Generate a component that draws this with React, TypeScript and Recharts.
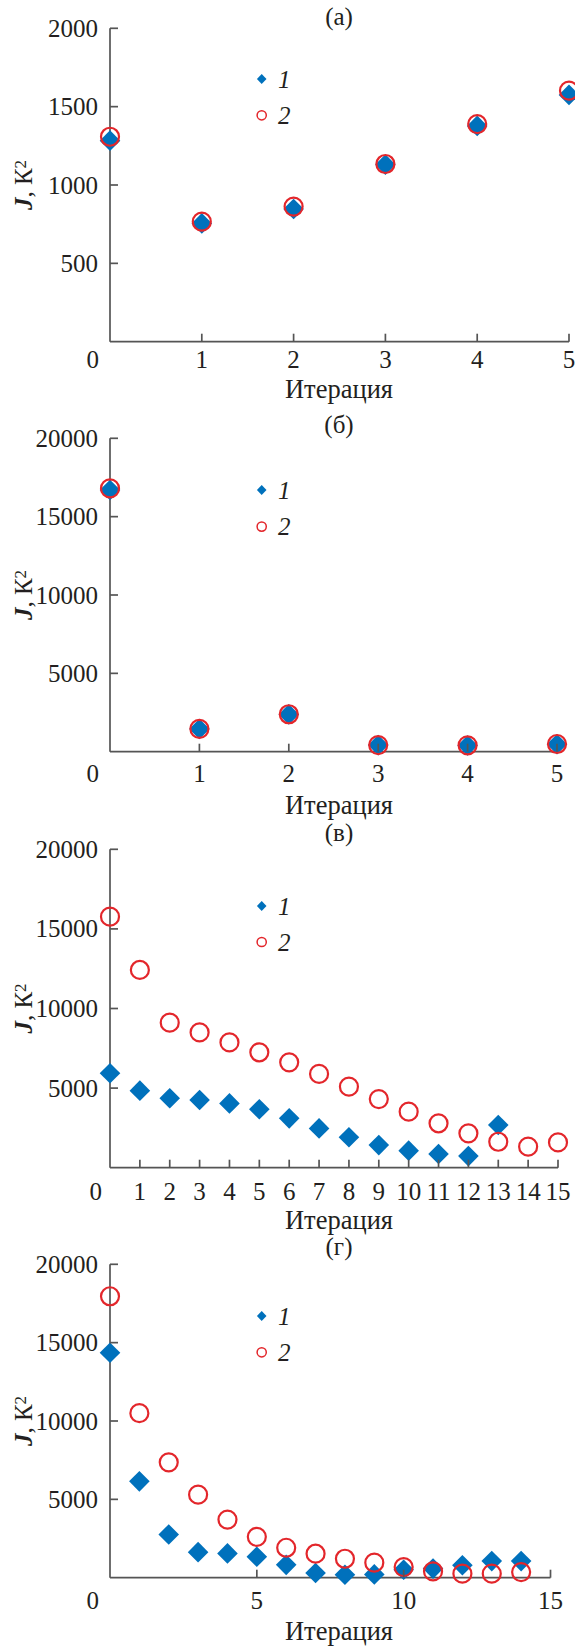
import React from 'react';
import { ScatterChart, Scatter, XAxis, YAxis, Legend } from 'recharts';

// ---------- data ----------
const titles = ['(а)', '(б)', '(в)', '(г)'];
const seriesNames = ['1', '2'];

// panel а
const iterA = [0, 1, 2, 3, 4, 5];
const jA1 = [1283, 755, 847, 1130, 1377, 1575];
const jA2 = [1308, 766, 862, 1134, 1389, 1602];

// panel б
const iterB = [0, 1, 2, 3, 4, 5];
const jB1 = [16700, 1450, 2380, 420, 400, 480];
const jB2 = [16800, 1460, 2390, 425, 405, 490];

// panel в
const iterC1 = [0, 1, 2, 3, 4, 5, 6, 7, 8, 9, 10, 11, 12, 13];
const jC1 = [5930, 4840, 4360, 4250, 4040, 3670, 3100, 2470, 1910, 1420, 1070, 860, 730, 2680];
const iterC2 = [0, 1, 2, 3, 4, 5, 6, 7, 8, 9, 10, 11, 12, 13, 14, 15];
const jC2 = [15770, 12420, 9110, 8500, 7870, 7250, 6620, 5890, 5090, 4310, 3520, 2790, 2160, 1630, 1320, 1590];

// panel г
const iterD = [0, 1, 2, 3, 4, 5, 6, 7, 8, 9, 10, 11, 12, 13, 14];
const jD1 = [14360, 6150, 2760, 1630, 1550, 1340, 820, 300, 190, 210, 510, 580, 790, 1060, 1060];
const jD2 = [17960, 10500, 7360, 5300, 3710, 2610, 1910, 1530, 1210, 960, 680, 400, 260, 260, 360];

// axis ticks
const xTicksA = [0, 1, 2, 3, 4, 5];
const xTicksB = [0, 1, 2, 3, 4, 5];
const xTicksC = [0, 1, 2, 3, 4, 5, 6, 7, 8, 9, 10, 11, 12, 13, 14, 15];
const xTicksD = [0, 5, 10, 15];
const yTicksA = [500, 1000, 1500, 2000];
const yTicksBig = [5000, 10000, 15000, 20000];

const pts = (xs: number[], ys: number[]) => xs.map((x, i) => ({ x, y: ys[i] }));

const panels = [
  { s1: pts(iterA, jA1), s2: pts(iterA, jA2), xMax: 5, xTicks: xTicksA, yMax: 2000, yTicks: yTicksA },
  { s1: pts(iterB, jB1), s2: pts(iterB, jB2), xMax: 5, xTicks: xTicksB, yMax: 20000, yTicks: yTicksBig },
  { s1: pts(iterC1, jC1), s2: pts(iterC2, jC2), xMax: 15, xTicks: xTicksC, yMax: 20000, yTicks: yTicksBig },
  { s1: pts(iterD, jD1), s2: pts(iterD, jD2), xMax: 15, xTicks: xTicksD, yMax: 20000, yTicks: yTicksBig },
];

// ---------- layout / style ----------
const FONT = "'Liberation Serif', 'Times New Roman', serif";
const FS = 25;
const FS_LABEL = 26.5;
const BLUE = '#0071bc';
const RED = '#e3262b';
const AXIS = '#555555';
const TEXT = '#231f20';
const W = 575;
const TS: React.CSSProperties = { fontFamily: FONT, fontSize: FS, fill: TEXT };
const TL: React.CSSProperties = { fontFamily: FONT, fontSize: FS_LABEL, fill: TEXT };

const layouts = [
  { top: 0, height: 412, plotTop: 28.3, plotBottom: 341.7, plotRight: 569, titleBase: 25, tickBase: 368, xLabelBase: 397.5, zeroX: 99, leg1: 51, leg2: 87.3 },
  { top: 400, height: 420, plotTop: 438.3, plotBottom: 751.7, plotRight: 557, titleBase: 433, tickBase: 781.6, xLabelBase: 814, zeroX: 99, leg1: 51.7, leg2: 88.3 },
  { top: 815, height: 422, plotTop: 849.3, plotBottom: 1167.7, plotRight: 558, titleBase: 841, tickBase: 1200, xLabelBase: 1229, zeroX: 102, leg1: 56.3, leg2: 92.3 },
  { top: 1226, height: 420, plotTop: 1264.3, plotBottom: 1577.7, plotRight: 550.5, titleBase: 1254.5, tickBase: 1609.3, xLabelBase: 1640, zeroX: 99, leg1: 52, leg2: 88.3 },
];
const PLOT_LEFT = 110;
const TITLE_X = 339;

const Diamond = (props: any) => {
  const { cx, cy } = props;
  if (cx == null || cy == null) return null;
  const h = 10.3;
  return <polygon points={`${cx},${cy - h} ${cx + h},${cy} ${cx},${cy + h} ${cx - h},${cy}`} fill={BLUE} />;
};

const Ring = (props: any) => {
  const { cx, cy } = props;
  if (cx == null || cy == null) return null;
  return <circle cx={cx} cy={cy} r={9} fill="none" stroke={RED} strokeWidth={2.2} />;
};

const makeXTick = (labelDy: number, zeroX: number) => (props: any) => {
  const { x, y, payload } = props;
  const v = payload.value;
  const isZero = v === 0;
  return (
    <g>
      {!isZero && <line x1={x} y1={y} x2={x} y2={y - 8} stroke={AXIS} strokeWidth={1.7} />}
      <text x={isZero ? zeroX : x} y={y + labelDy} textAnchor={isZero ? 'end' : 'middle'} style={TS}>
        {v}
      </text>
    </g>
  );
};

const YTick = (props: any) => {
  const { x, y, payload } = props;
  return (
    <g>
      <line x1={x} y1={y} x2={x + 8} y2={y} stroke={AXIS} strokeWidth={1.7} />
      <text x={x - 12} y={y + 0.34 * FS} textAnchor="end" style={TS}>
        {payload.value}
      </text>
    </g>
  );
};

const makeLegend = (gap: number) => () => (
  <svg width={60} height={gap + 30} style={{ display: 'block', overflow: 'visible' }}>
    <polygon points="11.7,7 16.5,12 11.7,17 6.9,12" fill={BLUE} />
    <text x={28} y={21} style={{ ...TS, fontStyle: 'italic' }}>
      {seriesNames[0]}
    </text>
    <circle cx={11.7} cy={12 + gap} r={4.6} fill="none" stroke={RED} strokeWidth={1.5} />
    <text x={28} y={12 + gap + 8.5} style={{ ...TS, fontStyle: 'italic' }}>
      {seriesNames[1]}
    </text>
  </svg>
);

const Panel = ({ idx }: { idx: number }) => {
  const P = panels[idx];
  const L = layouts[idx];
  const mt = L.plotTop - L.top;
  const xAxisH = L.top + L.height - L.plotBottom;
  const plotCenterY = (L.plotTop + L.plotBottom) / 2 - L.top;
  const legTop = L.plotTop + L.leg1 - 12 - L.top;
  return (
    <div style={{ position: 'absolute', left: 0, top: L.top, width: W, height: L.height }}>
      <ScatterChart
        width={W}
        height={L.height}
        margin={{ top: mt, right: W - L.plotRight, bottom: 0, left: 0 }}
        style={{ fontFamily: FONT }}
      >
        <XAxis
          type="number"
          dataKey="x"
          domain={[0, P.xMax]}
          ticks={P.xTicks}
          interval={0}
          height={xAxisH}
          tickSize={0}
          tickMargin={0}
          tickLine={false}
          axisLine={{ stroke: AXIS, strokeWidth: 1.7 }}
          tick={makeXTick(L.tickBase - L.plotBottom, L.zeroX)}
          label={{
            value: 'Итерация',
            content: () => (
              <text x={TITLE_X} y={L.xLabelBase - L.top} textAnchor="middle" style={TL}>
                Итерация
              </text>
            ),
          }}
        />
        <YAxis
          type="number"
          dataKey="y"
          domain={[0, P.yMax]}
          ticks={P.yTicks}
          interval={0}
          width={PLOT_LEFT}
          tickSize={0}
          tickMargin={0}
          tickLine={false}
          axisLine={{ stroke: AXIS, strokeWidth: 1.7 }}
          tick={YTick}
          label={{
            value: 'J, K2',
            content: () => (
              <text
                x={32}
                y={plotCenterY}
                transform={`rotate(-90, 32, ${plotCenterY})`}
                textAnchor="middle"
                style={TS}
              >
                <tspan style={{ fontStyle: 'italic', fontWeight: 'bold' }}>J</tspan>
                <tspan>, К</tspan>
                <tspan dy={-6} style={{ fontSize: 17 }}>2</tspan>
              </text>
            ),
          }}
        />
        <Legend
          content={makeLegend(L.leg2 - L.leg1)}
          layout="horizontal"
          verticalAlign="middle"
          align="center"
          width={60}
          wrapperStyle={{ left: 250, top: legTop, width: 60, margin: 0, padding: 0 }}
        />
        <Scatter name={seriesNames[0]} data={P.s1} shape={Diamond} legendType="diamond" fill={BLUE} isAnimationActive={false} />
        <Scatter name={seriesNames[1]} data={P.s2} shape={Ring} legendType="circle" fill={RED} isAnimationActive={false} />
        <text x={TITLE_X} y={L.titleBase - L.top} textAnchor="middle" style={TS}>
          {titles[idx]}
        </text>
      </ScatterChart>
    </div>
  );
};

export default function App() {
  return (
    <div style={{ position: 'absolute', left: 0, top: 0, width: W, height: 1646, background: '#fff', overflow: 'hidden', fontFamily: FONT }}>
      {panels.map((_, i) => (
        <Panel key={i} idx={i} />
      ))}
    </div>
  );
}
